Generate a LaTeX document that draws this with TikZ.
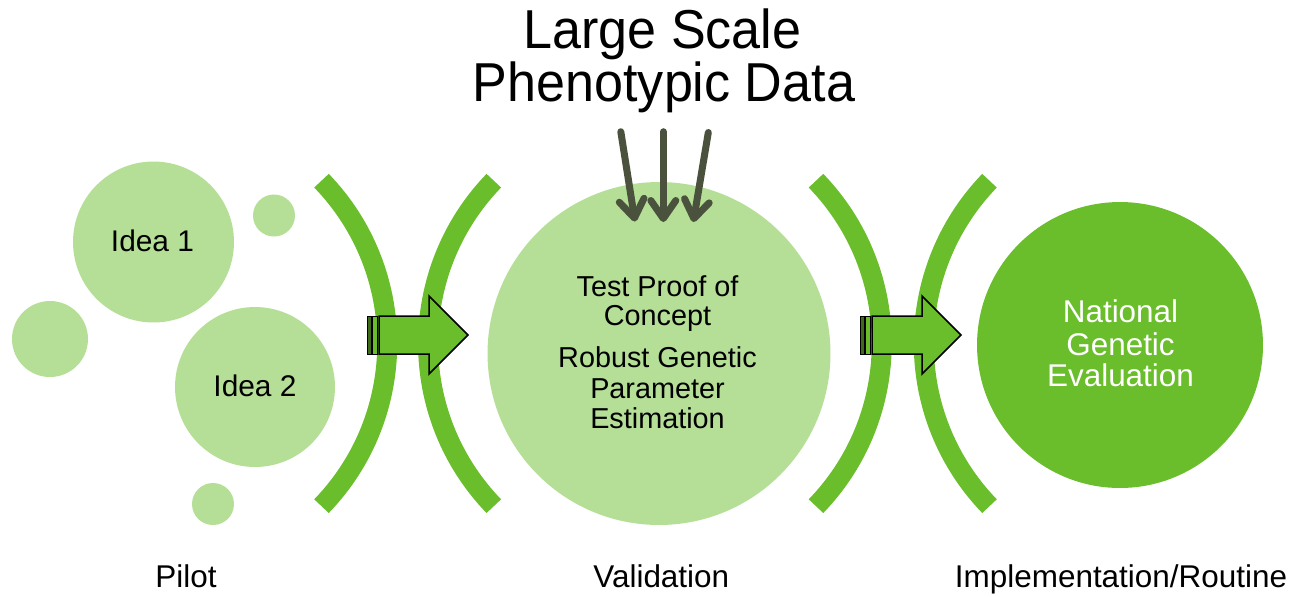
\documentclass[tikz,border=0pt]{standalone}
\usepackage{fontspec}
\setmainfont{Liberation Sans}
\usepackage{graphicx}
\usetikzlibrary{arrows.meta}
\definecolor{lightgreen}{HTML}{B5DE96}
\definecolor{midgreen}{HTML}{6ABD2B}
\definecolor{stripegreen}{HTML}{3D6B1A}
\definecolor{arrowgray}{HTML}{4A523E}
\begin{document}
\begin{tikzpicture}[x=0.02cm,y=-0.02cm,
  bubble/.style={circle,fill=lightgreen,draw=none,inner sep=0pt},
  bigbubble/.style={circle,fill=midgreen,draw=none,inner sep=0pt},
  lbl/.style={anchor=base,inner sep=0pt,font=\fontsize{17.9}{20}\selectfont},
  idealbl/.style={anchor=base,inner sep=0pt,font=\fontsize{17}{20}\selectfont},
  vlbl/.style={anchor=base,inner sep=0pt,font=\fontsize{16.4}{19}\selectfont},
  nlbl/.style={anchor=base,inner sep=0pt,text=white,font=\fontsize{17.9}{20}\selectfont},
  titlelbl/.style={anchor=base,inner sep=0pt,font=\fontsize{31.2}{36}\selectfont},
  bracket/.style={draw=midgreen,line width=0.4cm},
  blockarrow/.style={fill=midgreen,draw=black,line width=0.03cm,line join=miter},
  stripe/.style={draw=black,line width=0.02cm},
  inarrow/.style={draw=arrowgray,line width=0.14cm,line cap=round,
    -{Straight Barb[length=0.36cm,width=0.5cm,round]}}]
\useasboundingbox (0,0) rectangle (1297,596);

% bubbles
\node[bubble,minimum size=3.22cm] (idea1) at (153.5,242) {};
\node[bubble,minimum size=3.2cm] (idea2) at (255,387) {};
\node[bubble,minimum size=1.52cm] (dotL) at (50,339) {};
\node[bubble,minimum size=0.84cm] (dotT) at (274,215.5) {};
\node[bubble,minimum size=0.84cm] (dotB) at (213,504) {};
\node[bubble,minimum size=6.86cm] (valid) at (659,353.5) {};
\node[bigbubble,minimum size=5.72cm] (natl) at (1120,345) {};

% brackets
\draw[bracket] (321.5,180.7) arc[start angle=44,end angle=-44,radius=4.686cm];
\draw[bracket] (493.8,180.7) arc[start angle=136,end angle=224,radius=4.686cm];
\draw[bracket] (816.0,180.7) arc[start angle=44,end angle=-44,radius=4.686cm];
\draw[bracket] (989.5,180.7) arc[start angle=136,end angle=224,radius=4.686cm];

% block arrows
\draw[stripe,fill=stripegreen] (367.3,316) rectangle (371.7,354);
\draw[stripe,fill=midgreen] (372.5,316) rectangle (377.3,354);
\draw[blockarrow] (379,316) -- (429,316) -- (429,296) -- (468,335) -- (429,374) -- (429,354) -- (379,354) -- cycle;
\draw[stripe,fill=stripegreen] (860,316) rectangle (864.3,354);
\draw[stripe,fill=midgreen] (865,316) rectangle (870.5,354);
\draw[blockarrow] (872,316) -- (922,316) -- (922,296) -- (961,335) -- (922,374) -- (922,354) -- (872,354) -- cycle;

% incoming data arrows
\coordinate (d1s) at (620.8,131.7);
\coordinate (d1e) at (635,221.5);
\coordinate (d2s) at (663.3,131.7);
\coordinate (d2e) at (663.3,222);
\coordinate (d3s) at (708.3,132.5);
\coordinate (d3e) at (693.3,222);
\draw[inarrow] (d1s) -- (d1e);
\draw[inarrow] (d2s) -- (d2e);
\draw[inarrow] (d3s) -- (d3e);

% texts
\node[titlelbl] (t1) at (662.5,48.5) {\scalebox{0.95}[1]{Large Scale}};
\node[titlelbl] (t2) at (664,101) {\scalebox{0.95}[1]{Phenotypic Data}};

\node[idealbl] (i1) at (152.5,251.7) {Idea 1};
\node[idealbl] (i2) at (255,396.7) {Idea 2};

\node[vlbl] (v1) at (657.5,296) {Test Proof of};
\node[vlbl] (v2) at (657.5,325.7) {Concept};
\node[vlbl] (v3) at (657.5,367.3) {Robust Genetic};
\node[vlbl] (v4) at (657.5,398.3) {Parameter};
\node[vlbl] (v5) at (657.5,428.3) {Estimation};

\node[nlbl] (n1) at (1120.5,322.3) {National};
\node[nlbl] (n2) at (1120.5,355) {Genetic};
\node[nlbl] (n3) at (1120.5,386.7) {Evaluation};

\node[lbl] (pilot) at (186,587) {Pilot};
\node[lbl] (validation) at (661.3,587) {Validation};
\node[lbl] (impl) at (1121,587) {Implementation/Routine};
\end{tikzpicture}
\end{document}
